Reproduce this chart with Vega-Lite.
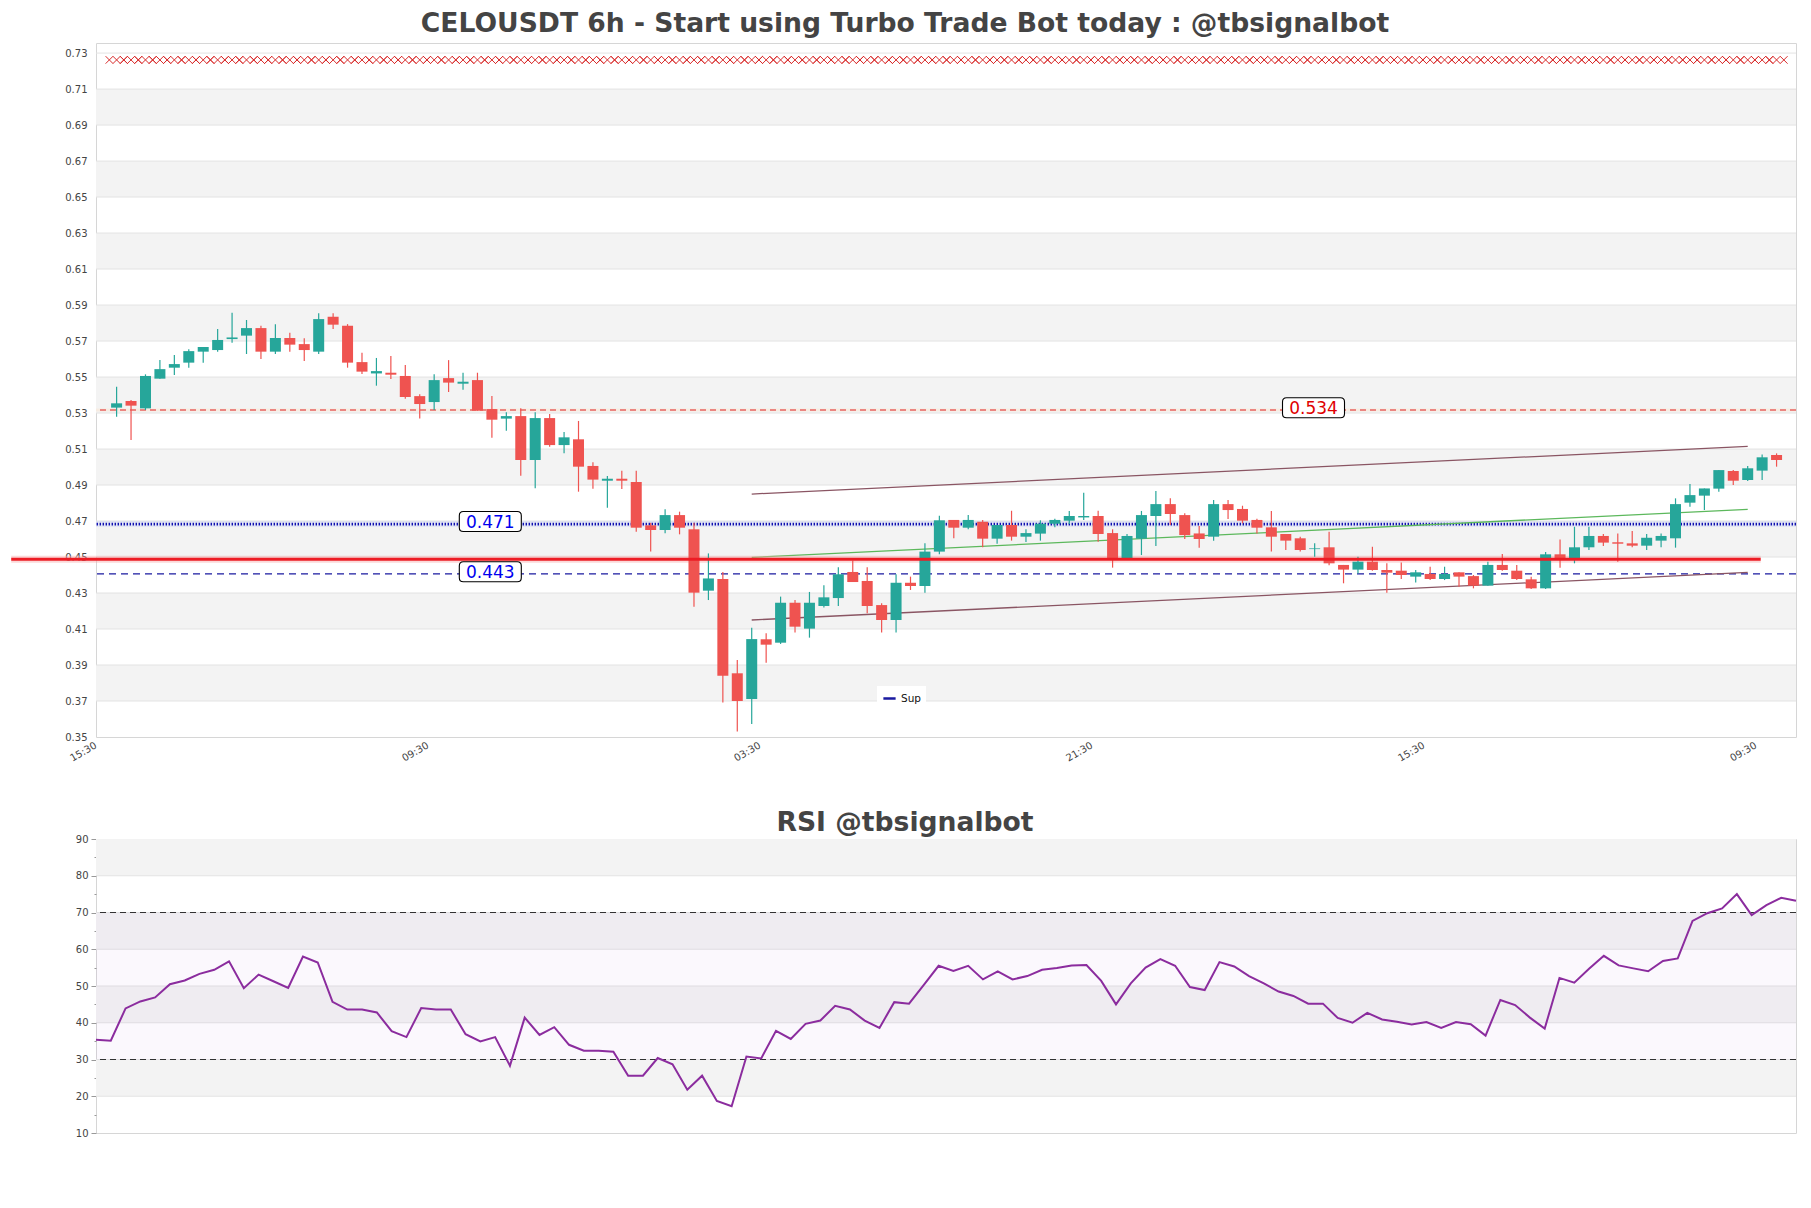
{
"$schema": "https://vega.github.io/schema/vega-lite/v6.json",
"background": "white",
"padding": {"left": 7, "top": 10, "right": 5, "bottom": 5},
"bounds": "flush",
"spacing": 102,
"config": {
  "font": "DejaVu Sans",
  "view": {"stroke": "#d6d6d6", "strokeWidth": 1},
  "title": {"font": "DejaVu Sans", "fontSize": 26.6, "fontWeight": "bold", "color": "#444444", "anchor": "middle", "baseline": "alphabetic", "frame": "group", "dx": -41},
  "axis": {"labelFont": "DejaVu Sans", "labelColor": "#444444", "grid": false, "domain": false, "labelOverlap": false, "tickCount": 100}
},
"datasets": {
  "one": [{}],
  "candles": [
    {"i":0,"o":0.5330,"h":0.5446,"l":0.5280,"c":0.5354},
    {"i":1,"o":0.5367,"h":0.5372,"l":0.5150,"c":0.5341},
    {"i":2,"o":0.5326,"h":0.5515,"l":0.5317,"c":0.5506},
    {"i":3,"o":0.5491,"h":0.5594,"l":0.5491,"c":0.5544},
    {"i":4,"o":0.5552,"h":0.5622,"l":0.5511,"c":0.5572},
    {"i":5,"o":0.5580,"h":0.5654,"l":0.5552,"c":0.5644},
    {"i":6,"o":0.5641,"h":0.5667,"l":0.5580,"c":0.5667},
    {"i":7,"o":0.5650,"h":0.5767,"l":0.5641,"c":0.5706},
    {"i":8,"o":0.5711,"h":0.5857,"l":0.5691,"c":0.5720},
    {"i":9,"o":0.5730,"h":0.5817,"l":0.5628,"c":0.5772},
    {"i":10,"o":0.5772,"h":0.5785,"l":0.5600,"c":0.5641},
    {"i":11,"o":0.5641,"h":0.5794,"l":0.5628,"c":0.5717},
    {"i":12,"o":0.5717,"h":0.5746,"l":0.5641,"c":0.5680},
    {"i":13,"o":0.5683,"h":0.5715,"l":0.5589,"c":0.5650},
    {"i":14,"o":0.5641,"h":0.5854,"l":0.5628,"c":0.5822},
    {"i":15,"o":0.5835,"h":0.5854,"l":0.5767,"c":0.5791},
    {"i":16,"o":0.5785,"h":0.5794,"l":0.5552,"c":0.5580},
    {"i":17,"o":0.5583,"h":0.5635,"l":0.5517,"c":0.5530},
    {"i":18,"o":0.5520,"h":0.5606,"l":0.5452,"c":0.5533},
    {"i":19,"o":0.5524,"h":0.5617,"l":0.5489,"c":0.5513},
    {"i":20,"o":0.5506,"h":0.5567,"l":0.5380,"c":0.5389},
    {"i":21,"o":0.5394,"h":0.5404,"l":0.5269,"c":0.5350},
    {"i":22,"o":0.5361,"h":0.5515,"l":0.5317,"c":0.5483},
    {"i":23,"o":0.5494,"h":0.5594,"l":0.5417,"c":0.5469},
    {"i":24,"o":0.5463,"h":0.5524,"l":0.5430,"c":0.5474},
    {"i":25,"o":0.5483,"h":0.5524,"l":0.5313,"c":0.5313},
    {"i":26,"o":0.5322,"h":0.5394,"l":0.5163,"c":0.5263},
    {"i":27,"o":0.5269,"h":0.5304,"l":0.5202,"c":0.5283},
    {"i":28,"o":0.5283,"h":0.5326,"l":0.4952,"c":0.5039},
    {"i":29,"o":0.5039,"h":0.5304,"l":0.4882,"c":0.5272},
    {"i":30,"o":0.5272,"h":0.5294,"l":0.5113,"c":0.5122},
    {"i":31,"o":0.5122,"h":0.5194,"l":0.5076,"c":0.5165},
    {"i":32,"o":0.5154,"h":0.5256,"l":0.4863,"c":0.5002},
    {"i":33,"o":0.5006,"h":0.5026,"l":0.4880,"c":0.4930},
    {"i":34,"o":0.4924,"h":0.4950,"l":0.4774,"c":0.4935},
    {"i":35,"o":0.4935,"h":0.4980,"l":0.4878,"c":0.4924},
    {"i":36,"o":0.4917,"h":0.4980,"l":0.4641,"c":0.4663},
    {"i":37,"o":0.4676,"h":0.4691,"l":0.4530,"c":0.4650},
    {"i":38,"o":0.4650,"h":0.4765,"l":0.4632,"c":0.4733},
    {"i":39,"o":0.4733,"h":0.4752,"l":0.4626,"c":0.4663},
    {"i":40,"o":0.4654,"h":0.4691,"l":0.4224,"c":0.4302},
    {"i":41,"o":0.4313,"h":0.4520,"l":0.4261,"c":0.4381},
    {"i":42,"o":0.4378,"h":0.4417,"l":0.3691,"c":0.3841},
    {"i":43,"o":0.3854,"h":0.3928,"l":0.3530,"c":0.3700},
    {"i":44,"o":0.3711,"h":0.4107,"l":0.3572,"c":0.4044},
    {"i":45,"o":0.4043,"h":0.4076,"l":0.3913,"c":0.4013},
    {"i":46,"o":0.4024,"h":0.4280,"l":0.4017,"c":0.4246},
    {"i":47,"o":0.4246,"h":0.4261,"l":0.4081,"c":0.4113},
    {"i":48,"o":0.4102,"h":0.4306,"l":0.4052,"c":0.4246},
    {"i":49,"o":0.4228,"h":0.4343,"l":0.4219,"c":0.4276},
    {"i":50,"o":0.4272,"h":0.4443,"l":0.4228,"c":0.4404},
    {"i":51,"o":0.4417,"h":0.4480,"l":0.4361,"c":0.4361},
    {"i":52,"o":0.4367,"h":0.4443,"l":0.4187,"c":0.4228},
    {"i":53,"o":0.4233,"h":0.4243,"l":0.4080,"c":0.4150},
    {"i":54,"o":0.4150,"h":0.4404,"l":0.4080,"c":0.4357},
    {"i":55,"o":0.4357,"h":0.4391,"l":0.4317,"c":0.4339},
    {"i":56,"o":0.4339,"h":0.4576,"l":0.4302,"c":0.4530},
    {"i":57,"o":0.4530,"h":0.4730,"l":0.4515,"c":0.4704},
    {"i":58,"o":0.4706,"h":0.4706,"l":0.4604,"c":0.4663},
    {"i":59,"o":0.4663,"h":0.4733,"l":0.4654,"c":0.4706},
    {"i":60,"o":0.4696,"h":0.4706,"l":0.4554,"c":0.4602},
    {"i":61,"o":0.4602,"h":0.4678,"l":0.4574,"c":0.4678},
    {"i":62,"o":0.4678,"h":0.4757,"l":0.4591,"c":0.4613},
    {"i":63,"o":0.4613,"h":0.4654,"l":0.4583,"c":0.4633},
    {"i":64,"o":0.4630,"h":0.4704,"l":0.4591,"c":0.4685},
    {"i":65,"o":0.4685,"h":0.4713,"l":0.4665,"c":0.4706},
    {"i":66,"o":0.4702,"h":0.4756,"l":0.4683,"c":0.4728},
    {"i":67,"o":0.4720,"h":0.4857,"l":0.4706,"c":0.4728},
    {"i":68,"o":0.4728,"h":0.4757,"l":0.4585,"c":0.4628},
    {"i":69,"o":0.4633,"h":0.4654,"l":0.4441,"c":0.4487},
    {"i":70,"o":0.4487,"h":0.4628,"l":0.4487,"c":0.4617},
    {"i":71,"o":0.4602,"h":0.4756,"l":0.4511,"c":0.4733},
    {"i":72,"o":0.4728,"h":0.4867,"l":0.4561,"c":0.4794},
    {"i":73,"o":0.4794,"h":0.4826,"l":0.4678,"c":0.4739},
    {"i":74,"o":0.4733,"h":0.4743,"l":0.4600,"c":0.4622},
    {"i":75,"o":0.4631,"h":0.4672,"l":0.4552,"c":0.4600},
    {"i":76,"o":0.4613,"h":0.4817,"l":0.4591,"c":0.4794},
    {"i":77,"o":0.4794,"h":0.4817,"l":0.4711,"c":0.4761},
    {"i":78,"o":0.4767,"h":0.4785,"l":0.4687,"c":0.4702},
    {"i":79,"o":0.4706,"h":0.4713,"l":0.4631,"c":0.4663},
    {"i":80,"o":0.4665,"h":0.4756,"l":0.4530,"c":0.4613},
    {"i":81,"o":0.4628,"h":0.4628,"l":0.4539,"c":0.4591},
    {"i":82,"o":0.4604,"h":0.4613,"l":0.4530,"c":0.4539},
    {"i":83,"o":0.4544,"h":0.4576,"l":0.4502,"c":0.4548},
    {"i":84,"o":0.4554,"h":0.4641,"l":0.4454,"c":0.4465},
    {"i":85,"o":0.4456,"h":0.4456,"l":0.4354,"c":0.4430},
    {"i":86,"o":0.4430,"h":0.4502,"l":0.4409,"c":0.4474},
    {"i":87,"o":0.4474,"h":0.4557,"l":0.4424,"c":0.4428},
    {"i":88,"o":0.4428,"h":0.4465,"l":0.4302,"c":0.4413},
    {"i":89,"o":0.4424,"h":0.4469,"l":0.4378,"c":0.4400},
    {"i":90,"o":0.4391,"h":0.4428,"l":0.4359,"c":0.4415},
    {"i":91,"o":0.4406,"h":0.4446,"l":0.4372,"c":0.4378},
    {"i":92,"o":0.4378,"h":0.4446,"l":0.4372,"c":0.4406},
    {"i":93,"o":0.4415,"h":0.4415,"l":0.4335,"c":0.4391},
    {"i":94,"o":0.4394,"h":0.4400,"l":0.4326,"c":0.4341},
    {"i":95,"o":0.4341,"h":0.4474,"l":0.4341,"c":0.4456},
    {"i":96,"o":0.4456,"h":0.4517,"l":0.4424,"c":0.4428},
    {"i":97,"o":0.4424,"h":0.4456,"l":0.4372,"c":0.4378},
    {"i":98,"o":0.4376,"h":0.4391,"l":0.4322,"c":0.4326},
    {"i":99,"o":0.4326,"h":0.4528,"l":0.4322,"c":0.4515},
    {"i":100,"o":0.4515,"h":0.4598,"l":0.4441,"c":0.4487},
    {"i":101,"o":0.4487,"h":0.4668,"l":0.4465,"c":0.4554},
    {"i":102,"o":0.4554,"h":0.4668,"l":0.4539,"c":0.4617},
    {"i":103,"o":0.4617,"h":0.4628,"l":0.4561,"c":0.4580},
    {"i":104,"o":0.4582,"h":0.4631,"l":0.4474,"c":0.4574},
    {"i":105,"o":0.4576,"h":0.4644,"l":0.4554,"c":0.4563},
    {"i":106,"o":0.4563,"h":0.4628,"l":0.4539,"c":0.4607},
    {"i":107,"o":0.4591,"h":0.4631,"l":0.4554,"c":0.4617},
    {"i":108,"o":0.4604,"h":0.4826,"l":0.4552,"c":0.4794},
    {"i":109,"o":0.4802,"h":0.4906,"l":0.4780,"c":0.4844},
    {"i":110,"o":0.4841,"h":0.4881,"l":0.4761,"c":0.4881},
    {"i":111,"o":0.4880,"h":0.4983,"l":0.4863,"c":0.4983},
    {"i":112,"o":0.4978,"h":0.4983,"l":0.4900,"c":0.4924},
    {"i":113,"o":0.4928,"h":0.5006,"l":0.4922,"c":0.4993},
    {"i":114,"o":0.4980,"h":0.5069,"l":0.4928,"c":0.5054},
    {"i":115,"o":0.5067,"h":0.5076,"l":0.5002,"c":0.5039}
  ],
  "rsi": [
    {"k":0,"v":35.4},{"k":1,"v":35.1},{"k":2,"v":43.9},{"k":3,"v":45.8},{"k":4,"v":46.9},{"k":5,"v":50.5},{"k":6,"v":51.5},{"k":7,"v":53.3},{"k":8,"v":54.4},{"k":9,"v":56.7},
    {"k":10,"v":49.4},{"k":11,"v":53.1},{"k":12,"v":51.3},{"k":13,"v":49.5},{"k":14,"v":58.0},{"k":15,"v":56.4},{"k":16,"v":45.7},{"k":17,"v":43.6},{"k":18,"v":43.6},{"k":19,"v":42.8},
    {"k":20,"v":37.7},{"k":21,"v":36.1},{"k":22,"v":44.0},{"k":23,"v":43.6},{"k":24,"v":43.6},{"k":25,"v":36.9},{"k":26,"v":34.9},{"k":27,"v":36.1},{"k":28,"v":28.3},{"k":29,"v":41.4},
    {"k":30,"v":36.7},{"k":31,"v":38.8},{"k":32,"v":34.0},{"k":33,"v":32.4},{"k":34,"v":32.4},{"k":35,"v":32.1},{"k":36,"v":25.6},{"k":37,"v":25.6},{"k":38,"v":30.4},{"k":39,"v":28.7},
    {"k":40,"v":21.8},{"k":41,"v":25.6},{"k":42,"v":18.7},{"k":43,"v":17.3},{"k":44,"v":30.8},{"k":45,"v":30.3},{"k":46,"v":37.8},{"k":47,"v":35.6},{"k":48,"v":39.7},{"k":49,"v":40.6},
    {"k":50,"v":44.6},{"k":51,"v":43.6},{"k":52,"v":40.6},{"k":53,"v":38.6},{"k":54,"v":45.6},{"k":55,"v":45.2},{"k":56,"v":50.3},{"k":57,"v":55.5},{"k":58,"v":54.1},{"k":59,"v":55.5},
    {"k":60,"v":51.8},{"k":61,"v":54.0},{"k":62,"v":51.8},{"k":63,"v":52.7},{"k":64,"v":54.4},{"k":65,"v":54.9},{"k":66,"v":55.6},{"k":67,"v":55.7},{"k":68,"v":51.4},{"k":69,"v":45.0},
    {"k":70,"v":50.7},{"k":71,"v":55.0},{"k":72,"v":57.3},{"k":73,"v":55.5},{"k":74,"v":49.7},{"k":75,"v":48.9},{"k":76,"v":56.5},{"k":77,"v":55.3},{"k":78,"v":52.7},{"k":79,"v":50.7},
    {"k":80,"v":48.5},{"k":81,"v":47.3},{"k":82,"v":45.2},{"k":83,"v":45.2},{"k":84,"v":41.3},{"k":85,"v":40.0},{"k":86,"v":42.7},{"k":87,"v":40.9},{"k":88,"v":40.3},{"k":89,"v":39.5},
    {"k":90,"v":40.2},{"k":91,"v":38.6},{"k":92,"v":40.2},{"k":93,"v":39.6},{"k":94,"v":36.5},{"k":95,"v":46.2},{"k":96,"v":44.8},{"k":97,"v":41.4},{"k":98,"v":38.4},{"k":99,"v":52.2},
    {"k":100,"v":50.9},{"k":101,"v":54.7},{"k":102,"v":58.2},{"k":103,"v":55.6},{"k":104,"v":54.8},{"k":105,"v":54.0},{"k":106,"v":56.8},{"k":107,"v":57.5},{"k":108,"v":67.7},{"k":109,"v":69.8},
    {"k":110,"v":71.1},{"k":111,"v":75.0},{"k":112,"v":69.3},{"k":113,"v":72.0},{"k":114,"v":74.0},{"k":115,"v":73.2}
  ],
  "pbands": [
    {"lo":0.37,"hi":0.39},{"lo":0.41,"hi":0.43},{"lo":0.45,"hi":0.47},{"lo":0.49,"hi":0.51},{"lo":0.53,"hi":0.55},
    {"lo":0.57,"hi":0.59},{"lo":0.61,"hi":0.63},{"lo":0.65,"hi":0.67},{"lo":0.69,"hi":0.71}
  ],
  "pgrid": [
    {"v":0.37},{"v":0.39},{"v":0.41},{"v":0.43},{"v":0.45},{"v":0.47},{"v":0.49},{"v":0.51},{"v":0.53},{"v":0.55},
    {"v":0.57},{"v":0.59},{"v":0.61},{"v":0.63},{"v":0.65},{"v":0.67},{"v":0.69},{"v":0.71},{"v":0.73}
  ],
  "rbands": [{"lo":20,"hi":30},{"lo":40,"hi":50},{"lo":60,"hi":70},{"lo":80,"hi":90}],
  "rgrid": [{"v":20},{"v":30},{"v":40},{"v":50},{"v":60},{"v":70},{"v":80}],
  "trends": [
    {"kind":"upper","i0":44,"p0":0.4850,"i1":113,"p1":0.5115},
    {"kind":"mid","i0":44,"p0":0.4498,"i1":113,"p1":0.4765},
    {"kind":"lower","i0":44,"p0":0.4150,"i1":113,"p1":0.4415}
  ],
  "labels": [
    {"t":"0.471","i":25.89,"p":0.4697},
    {"t":"0.443","i":25.89,"p":0.4418},
    {"t":"0.534","i":82.92,"p":0.5329}
  ]
},
"vconcat": [
  {
    "width": 1700,
    "height": 694,
    "title": {"text": "CELOUSDT 6h - Start using Turbo Trade Bot today : @tbsignalbot", "offset": 5.5},
    "layer": [
      {
        "data": {"name": "pbands"},
        "mark": {"type": "rect", "color": "#f3f3f3"},
        "encoding": {
          "y": {"field": "lo", "type": "quantitative", "title": null,
                "scale": {"domain": [0.35, 0.7356], "nice": false, "zero": false},
                "axis": {"title": null, "values": [0.35,0.37,0.39,0.41,0.43,0.45,0.47,0.49,0.51,0.53,0.55,0.57,0.59,0.61,0.63,0.65,0.67,0.69,0.71,0.73],
                         "tickCount": 100, "format": ".2f", "ticks": false, "labelPadding": 9, "labelFontSize": 10, "grid": false, "domain": false, "labelOverlap": false}},
          "y2": {"field": "hi"}
        }
      },
      {
        "data": {"name": "pgrid"},
        "mark": {"type": "rule", "color": "#e3e3e3", "strokeWidth": 1},
        "encoding": {"y": {"field": "v", "type": "quantitative", "title": null}}
      },
      {
        "data": {"name": "candles"},
        "mark": {"type": "point", "shape": "M-1,-1L1,1M-1,1L1,-1", "size": 56, "filled": false, "stroke": "#d92b2b", "strokeWidth": 1, "opacity": 1, "clip": true},
        "encoding": {"x": {"field": "i", "type": "quantitative", "title": null}, "y": {"datum": 0.7262}}
      },
      {
        "data": {"name": "candles"},
        "mark": {"type": "point", "shape": "M-1,-1L1,1M-1,1L1,-1", "size": 56, "filled": false, "stroke": "#d92b2b", "strokeWidth": 1, "opacity": 1, "clip": true, "xOffset": 7.26},
        "encoding": {"x": {"field": "i", "type": "quantitative", "title": null}, "y": {"datum": 0.7262}}
      },
      {
        "data": {"name": "candles"},
        "mark": {"type": "point", "shape": "M-1,-1L1,1M-1,1L1,-1", "size": 56, "filled": false, "stroke": "#d92b2b", "strokeWidth": 1, "opacity": 1, "clip": true, "xOffset": -7.26},
        "encoding": {"x": {"field": "i", "type": "quantitative", "title": null}, "y": {"datum": 0.7262}}
      },
      {
        "data": {"name": "one"},
        "mark": {"type": "rule", "color": "#ffe0c4", "strokeWidth": 3, "opacity": 0.35},
        "encoding": {"y": {"datum": 0.5317}}
      },
      {
        "data": {"name": "one"},
        "mark": {"type": "rule", "color": "#e02020", "strokeWidth": 1.2, "strokeDash": [6, 4]},
        "encoding": {"y": {"datum": 0.5317}}
      },
      {
        "data": {"name": "one"},
        "mark": {"type": "rule", "color": "#c5cdf5", "strokeWidth": 6, "opacity": 0.35},
        "encoding": {"y": {"datum": 0.4683}}
      },
      {
        "data": {"name": "one"},
        "mark": {"type": "rule", "color": "#1010b0", "strokeWidth": 2.6, "strokeDash": [1.4, 1.6]},
        "encoding": {"y": {"datum": 0.4683}}
      },
      {
        "data": {"name": "one"},
        "mark": {"type": "rule", "strokeWidth": 1.3, "strokeDash": [7, 5]},
        "encoding": {
          "y": {"datum": 0.4406},
          "color": {"datum": "Sup", "type": "nominal",
                    "scale": {"domain": ["Sup"], "range": ["#1a1aa0"]},
                    "legend": {"orient": "none", "legendX": 781, "legendY": 643, "title": null, "symbolType": "stroke", "symbolSize": 150, "symbolStrokeWidth": 2.5, "symbolDash": [1, 0], "fillColor": "white", "padding": 5, "labelFontSize": 10.5, "labelColor": "#111111", "labelFont": "DejaVu Sans"}}
        }
      },
      {
        "data": {"name": "trends"},
        "mark": {"type": "rule", "strokeWidth": 1.3},
        "encoding": {
          "x": {"field": "i0", "type": "quantitative", "title": null},
          "x2": {"field": "i1"},
          "y": {"field": "p0", "type": "quantitative", "title": null},
          "y2": {"field": "p1"},
          "color": {"condition": {"test": "datum.kind === 'mid'", "value": "#5cb85c"}, "value": "#8a5563"}
        }
      },
      {
        "data": {"name": "one"},
        "mark": {"type": "rule", "color": "#f6a8a8", "strokeWidth": 7, "opacity": 0.45, "clip": false},
        "encoding": {"x": {"datum": -7.3}, "x2": {"datum": 113.9}, "y": {"datum": 0.4488}}
      },
      {
        "data": {"name": "candles"},
        "mark": {"type": "rule", "strokeWidth": 1.2},
        "encoding": {
          "x": {"field": "i", "type": "quantitative", "title": null,
                "scale": {"domain": [-1.081, 116.0], "nice": false, "zero": false},
                "axis": {"title": null, "values": [-1.08, 21.92, 44.92, 67.92, 90.92, 113.92], "tickCount": 100,
                         "labelExpr": "datum.value < 10 ? '15:30' : datum.value < 30 ? '09:30' : datum.value < 50 ? '03:30' : datum.value < 80 ? '21:30' : datum.value < 100 ? '15:30' : '09:30'",
                         "labelAngle": -30, "labelAlign": "right", "labelBaseline": "top", "labelOffset": -8, "ticks": false, "labelPadding": 3, "labelFontSize": 10, "grid": false, "domain": false}},
          "y": {"field": "l", "type": "quantitative", "title": null},
          "y2": {"field": "h"},
          "color": {"condition": {"test": "datum.c >= datum.o", "value": "#26a69a"}, "value": "#ef5350"}
        }
      },
      {
        "data": {"name": "candles"},
        "mark": {"type": "bar", "size": 11},
        "encoding": {
          "x": {"field": "i", "type": "quantitative", "title": null},
          "y": {"field": "o", "type": "quantitative", "title": null},
          "y2": {"field": "c"},
          "color": {"condition": {"test": "datum.c >= datum.o", "value": "#26a69a"}, "value": "#ef5350"}
        }
      },
      {
        "data": {"name": "one"},
        "mark": {"type": "rule", "color": "#ed1c24", "strokeWidth": 3, "clip": false},
        "encoding": {"x": {"datum": -7.3}, "x2": {"datum": 113.9}, "y": {"datum": 0.4488}}
      },
      {
        "data": {"name": "labels"},
        "mark": {"type": "point", "shape": "M-0.87,-0.3226L0.87,-0.3226Q1,-0.3226 1,-0.19L1,0.19Q1,0.3226 0.87,0.3226L-0.87,0.3226Q-1,0.3226 -1,0.19L-1,-0.19Q-1,-0.3226 -0.87,-0.3226Z", "size": 3844, "filled": true, "fill": "white", "stroke": "black", "strokeWidth": 1.1, "opacity": 1},
        "encoding": {"x": {"field": "i", "type": "quantitative", "title": null}, "y": {"field": "p", "type": "quantitative", "title": null}}
      },
      {
        "data": {"name": "labels"},
        "mark": {"type": "text", "fontSize": 17, "font": "DejaVu Sans", "align": "center", "baseline": "middle", "dy": 1},
        "encoding": {
          "x": {"field": "i", "type": "quantitative", "title": null},
          "y": {"field": "p", "type": "quantitative", "title": null},
          "text": {"field": "t"},
          "color": {"condition": {"test": "datum.t === '0.534'", "value": "#e00000"}, "value": "#0000ee"}
        }
      }
    ]
  },
  {
    "width": 1700,
    "height": 294,
    "title": {"text": "RSI @tbsignalbot", "offset": -2.5},
    "layer": [
      {
        "data": {"name": "rbands"},
        "mark": {"type": "rect", "color": "#f3f3f3"},
        "encoding": {
          "y": {"field": "lo", "type": "quantitative", "title": null,
                "scale": {"domain": [10, 90], "nice": false, "zero": false},
                "axis": {"title": null, "values": [10,15,20,25,30,35,40,45,50,55,60,65,70,75,80,85,90], "tickCount": 100,
                         "labelExpr": "datum.value % 10 === 0 ? datum.label : ''",
                         "ticks": true, "tickColor": "#999999",
                         "tickSize": {"condition": {"test": "datum.value % 10 === 0", "value": 5}, "value": 2},
                         "labelPadding": 3, "labelFontSize": 10, "grid": false, "domain": false, "labelOverlap": false}},
          "y2": {"field": "hi"}
        }
      },
      {
        "data": {"name": "rgrid"},
        "mark": {"type": "rule", "color": "#e3e3e3", "strokeWidth": 1},
        "encoding": {"y": {"field": "v", "type": "quantitative", "title": null}}
      },
      {
        "data": {"name": "one"},
        "mark": {"type": "rect", "color": "#9b3fc4", "opacity": 0.035},
        "encoding": {"y": {"datum": 30}, "y2": {"datum": 70}}
      },
      {
        "data": {"name": "one"},
        "mark": {"type": "rule", "color": "#333333", "strokeWidth": 1.2, "strokeDash": [6, 4]},
        "encoding": {"y": {"datum": 30}}
      },
      {
        "data": {"name": "one"},
        "mark": {"type": "rule", "color": "#333333", "strokeWidth": 1.2, "strokeDash": [6, 4]},
        "encoding": {"y": {"datum": 70}}
      },
      {
        "data": {"name": "rsi"},
        "mark": {"type": "line", "color": "#8b2c9e", "strokeWidth": 2},
        "encoding": {
          "x": {"field": "k", "type": "quantitative", "title": null, "scale": {"domain": [0, 115], "nice": false, "zero": false}, "axis": null},
          "y": {"field": "v", "type": "quantitative", "title": null}
        }
      }
    ]
  }
]
}
